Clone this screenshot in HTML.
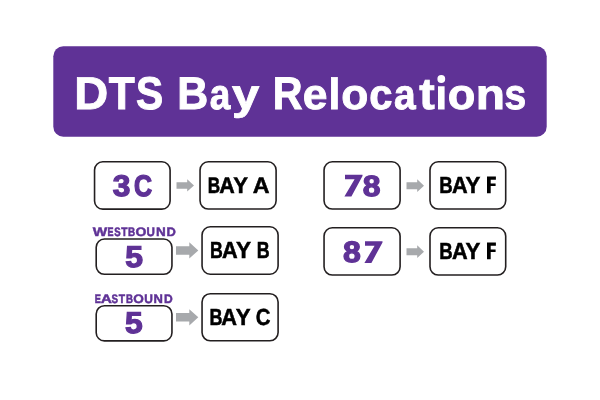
<!DOCTYPE html>
<html><head><meta charset="utf-8"><title>DTS Bay Relocations</title>
<style>
html,body{margin:0;padding:0;background:#fff;}
body{width:600px;height:400px;overflow:hidden;}
svg{display:block;font-family:"Liberation Sans",sans-serif;font-weight:bold;will-change:transform;text-rendering:geometricPrecision;}
</style></head><body>
<svg width="600" height="400" viewBox="0 0 600 400">
<rect x="53.3" y="46.3" width="493.4" height="90.4" rx="10" fill="#5f3296"/>
<rect x="94.55" y="161.80" width="75.55" height="47.30" rx="8.2" fill="#fff" stroke="#231f20" stroke-width="1.6"/>
<rect x="200.05" y="161.80" width="76.05" height="47.25" rx="8.2" fill="#fff" stroke="#231f20" stroke-width="1.6"/>
<rect x="96.20" y="239.05" width="75.75" height="35.25" rx="8.2" fill="#fff" stroke="#231f20" stroke-width="1.6"/>
<rect x="202.05" y="226.80" width="76.05" height="47.40" rx="8.2" fill="#fff" stroke="#231f20" stroke-width="1.6"/>
<rect x="96.20" y="305.70" width="75.75" height="35.20" rx="8.2" fill="#fff" stroke="#231f20" stroke-width="1.6"/>
<rect x="202.05" y="293.70" width="76.05" height="47.10" rx="8.2" fill="#fff" stroke="#231f20" stroke-width="1.6"/>
<rect x="324.05" y="161.80" width="76.05" height="47.25" rx="8.2" fill="#fff" stroke="#231f20" stroke-width="1.6"/>
<rect x="430.00" y="161.80" width="75.70" height="47.25" rx="8.2" fill="#fff" stroke="#231f20" stroke-width="1.6"/>
<rect x="324.05" y="227.80" width="76.05" height="47.25" rx="8.2" fill="#fff" stroke="#231f20" stroke-width="1.6"/>
<rect x="430.00" y="227.80" width="75.70" height="47.25" rx="8.2" fill="#fff" stroke="#231f20" stroke-width="1.6"/>
<g fill="#a7a9ac"><path d="M176.5 182.15H187.2V179.25L194 185.4L187.2 191.55V188.65H176.5Z"/><path d="M176 246.15H189.3V242.3L198.3 250.4L189.3 258.5V254.65H176Z"/><path d="M176 313.05H189.3V309.2L198.3 317.3L189.3 325.40V321.55H176Z"/><path d="M406.5 182.2H417.2V179.35L424 185.7L417.2 192.04V189.2H406.5Z"/><path d="M406.5 248.2H417.2V245.35L424 251.7L417.2 258.05V255.2H406.5Z"/></g>
<g fill="#fff" stroke="#fff" font-size="43" stroke-linejoin="miter">
<text stroke-width="0.833" transform="matrix(1.0939 0 0 1.0669 74.15 108.54)">D</text>
<text stroke-width="0.876" transform="matrix(0.9897 0 0 1.0669 108.63 108.54)">T</text>
<text stroke-width="0.896" transform="matrix(0.9469 0 0 1.0660 135.99 109.30)">S</text>
<text stroke-width="0.873" transform="matrix(0.9969 0 0 1.0669 177.22 108.54)">B</text>
<text stroke-width="0.976" transform="matrix(0.8587 0 0 0.9910 209.87 109.30)">a</text>
<text stroke-width="0.843" transform="matrix(1.1415 0 0 0.9975 231.88 108.97)">y</text>
<text stroke-width="0.890" transform="matrix(0.9588 0 0 1.0669 272.63 108.54)">R</text>
<text stroke-width="0.889" transform="matrix(1.0327 0 0 0.9931 302.63 108.91)">e</text>
<text stroke-width="0.898" transform="matrix(0.9882 0 0 1.0156 328.58 108.83)">l</text>
<text stroke-width="0.889" transform="matrix(1.0313 0 0 0.9942 341.32 108.92)">o</text>
<text stroke-width="0.920" transform="matrix(0.9699 0 0 0.9877 369.28 109.30)">c</text>
<text stroke-width="0.951" transform="matrix(0.9045 0 0 0.9894 394.10 109.30)">a</text>
<text stroke-width="0.854" transform="matrix(1.0817 0 0 1.0262 419.26 109.05)">t</text>
<path stroke="none" d="M438 86.25H444.6V109.5H438Z M437.4 79a3.9 3.9 0 1 0 7.8 0a3.9 3.9 0 1 0 -7.8 0Z"/>
<text stroke-width="0.881" transform="matrix(1.0511 0 0 0.9937 447.79 108.92)">o</text>
<text stroke-width="0.858" transform="matrix(1.1128 0 0 0.9894 475.81 108.83)">n</text>
<text stroke-width="0.950" transform="matrix(0.9074 0 0 0.9898 504.60 109.34)">s</text>
</g>
<g fill="#5f3296" stroke="#5f3296" font-size="31" stroke-linejoin="miter">
<text stroke-width="1.309" transform="matrix(1.0238 0 0 0.9635 112.81 195.50)">3</text>
<text stroke-width="1.475" transform="matrix(0.8064 0 0 0.9635 134.03 195.50)">C</text>
</g>
<g fill="#5f3296" stroke="#5f3296" font-size="31" stroke-linejoin="miter">
<path stroke="none" d="M345.00 174.70L362.50 174.70L362.50 176.00L351.40 196.40L344.40 196.40L354.60 179.20L345.00 179.20Z"/>
<text stroke-width="1.318" transform="matrix(1.0293 0 0 0.9447 362.64 196.00)">8</text>
</g>
<g fill="#5f3296" stroke="#5f3296" font-size="31" stroke-linejoin="miter">
<text stroke-width="1.312" transform="matrix(1.0330 0 0 0.9497 343.01 262.17)">8</text>
<path stroke="none" d="M365.00 241.20L382.50 241.20L382.50 242.50L371.40 262.90L364.40 262.90L374.60 245.70L365.00 245.70Z"/>
</g>
<g fill="#5f3296" stroke="#5f3296" font-size="31" stroke-linejoin="miter">
<text stroke-width="1.299" transform="matrix(1.0314 0 0 0.9704 125.18 267.07)">5</text>
</g>
<g fill="#5f3296" stroke="#5f3296" font-size="31" stroke-linejoin="miter">
<text stroke-width="1.304" transform="matrix(1.0254 0 0 0.9696 125.02 333.07)">5</text>
</g>
<g fill="#000" stroke="#000" font-size="22" stroke-linejoin="miter">
<text stroke-width="0.560" transform="matrix(0.7812 0 0 1.0191 207.77 193.00)">B</text>
<text stroke-width="0.502" transform="matrix(0.9751 0 0 1.0191 219.31 193.00)">A</text>
<text stroke-width="0.494" transform="matrix(1.0065 0 0 1.0191 233.15 193.00)">Y</text>
<text stroke-width="0.481" transform="matrix(1.0583 0 0 1.0191 252.70 193.00)">A</text>
</g>
<g fill="#000" stroke="#000" font-size="22" stroke-linejoin="miter">
<text stroke-width="0.543" transform="matrix(0.8071 0 0 1.0514 209.94 257.50)">B</text>
<text stroke-width="0.491" transform="matrix(0.9859 0 0 1.0514 221.91 257.50)">A</text>
<text stroke-width="0.480" transform="matrix(1.0302 0 0 1.0514 236.04 257.50)">Y</text>
<text stroke-width="0.541" transform="matrix(0.8122 0 0 1.0514 256.79 257.50)">B</text>
</g>
<g fill="#000" stroke="#000" font-size="22" stroke-linejoin="miter">
<text stroke-width="0.537" transform="matrix(0.8168 0 0 1.0596 209.44 324.50)">B</text>
<text stroke-width="0.488" transform="matrix(0.9911 0 0 1.0596 221.30 324.50)">A</text>
<text stroke-width="0.482" transform="matrix(1.0148 0 0 1.0596 235.66 324.50)">Y</text>
<text stroke-width="0.505" transform="matrix(0.9268 0 0 1.0596 255.65 324.50)">C</text>
</g>
<g fill="#000" stroke="#000" font-size="22" stroke-linejoin="miter">
<text stroke-width="0.530" transform="matrix(0.8455 0 0 1.0522 439.34 193.00)">B</text>
<text stroke-width="0.491" transform="matrix(0.9857 0 0 1.0522 451.91 193.00)">A</text>
<text stroke-width="0.484" transform="matrix(1.0140 0 0 1.0522 465.60 193.00)">Y</text>
<path stroke="none" transform="translate(487.0 176.6)" d="M0 0H8.9V3.1H3.7V6.85H8.6V9.45H3.7V16.55H0Z"/>
</g>
<g fill="#000" stroke="#000" font-size="22" stroke-linejoin="miter">
<text stroke-width="0.530" transform="matrix(0.8455 0 0 1.0522 439.34 259.00)">B</text>
<text stroke-width="0.491" transform="matrix(0.9857 0 0 1.0522 451.91 259.00)">A</text>
<text stroke-width="0.484" transform="matrix(1.0140 0 0 1.0522 465.60 259.00)">Y</text>
<path stroke="none" transform="translate(487.0 242.6)" d="M0 0H8.9V3.1H3.7V6.85H8.6V9.45H3.7V16.55H0Z"/>
</g>
<g fill="#5f3296" stroke="#5f3296" font-size="12" stroke-linejoin="miter">
<text stroke-width="0.437" transform="matrix(1.2796 0 0 1.0248 92.64 235.50)">W</text>
<text stroke-width="0.571" transform="matrix(0.7493 0 0 1.0248 107.48 235.50)">E</text>
<text stroke-width="0.553" transform="matrix(0.7990 0 0 1.0248 114.20 235.50)">S</text>
<text stroke-width="0.536" transform="matrix(0.8478 0 0 1.0248 121.16 235.50)">T</text>
<text stroke-width="0.544" transform="matrix(0.8242 0 0 1.0248 128.06 235.50)">B</text>
<text stroke-width="0.457" transform="matrix(1.1656 0 0 1.0248 135.62 235.50)">O</text>
<text stroke-width="0.502" transform="matrix(0.9669 0 0 1.0248 146.60 235.50)">U</text>
<text stroke-width="0.466" transform="matrix(1.1238 0 0 1.0248 155.88 235.50)">N</text>
<text stroke-width="0.476" transform="matrix(1.0754 0 0 1.0248 166.47 235.50)">D</text>
</g>
<g fill="#5f3296" stroke="#5f3296" font-size="12" stroke-linejoin="miter">
<text stroke-width="0.563" transform="matrix(0.7701 0 0 1.0253 94.82 302.50)">E</text>
<text stroke-width="0.435" transform="matrix(1.2882 0 0 1.0253 100.71 302.50)">A</text>
<text stroke-width="0.547" transform="matrix(0.8152 0 0 1.0253 111.60 302.50)">S</text>
<text stroke-width="0.532" transform="matrix(0.8630 0 0 1.0253 118.74 302.50)">T</text>
<text stroke-width="0.550" transform="matrix(0.8063 0 0 1.0253 126.12 302.50)">B</text>
<text stroke-width="0.464" transform="matrix(1.1307 0 0 1.0253 133.30 302.50)">O</text>
<text stroke-width="0.495" transform="matrix(0.9966 0 0 1.0253 144.16 302.50)">U</text>
<text stroke-width="0.474" transform="matrix(1.0841 0 0 1.0253 153.56 302.50)">N</text>
<text stroke-width="0.493" transform="matrix(1.0052 0 0 1.0253 163.99 302.50)">D</text>
</g>
</svg>
</body></html>
